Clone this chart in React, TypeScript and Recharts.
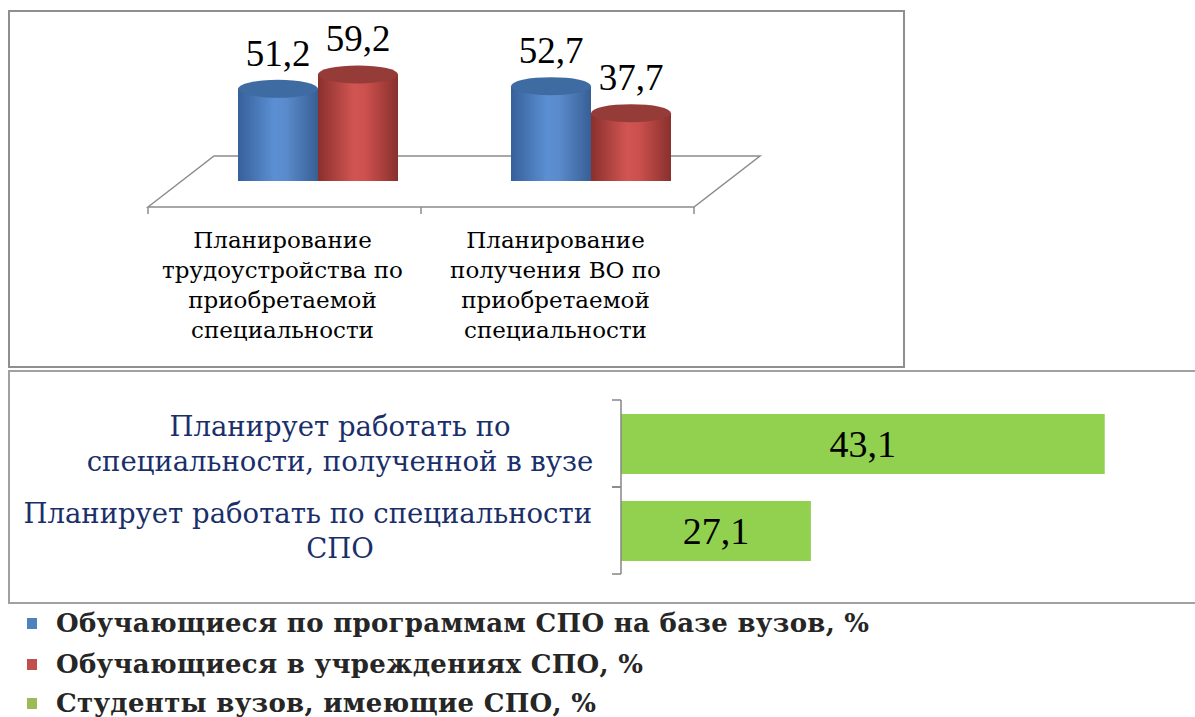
import React from "react";
import { BarChart, Bar, XAxis, YAxis, LabelList } from "recharts";

// top chart: two groups of 3D cylinders
const topCategories = [
  "Планирование\nтрудоустройства по\nприобретаемой\nспециальности",
  "Планирование\nполучения ВО по\nприобретаемой\nспециальности",
];
const vuzSpoValues = [51.2, 52.7];
const collegeSpoValues = [59.2, 37.7];

// bottom chart: horizontal bars
const bottomCategories = [
  "Планирует работать по\nспециальности, полученной в вузе",
  "Планирует работать по специальности\nСПО",
];
const studentValues = [43.1, 27.1];

const legendNames = [
  "Обучающиеся по программам СПО на базе вузов, %",
  "Обучающиеся в учреждениях СПО, %",
  "Студенты вузов, имеющие СПО, %",
];
const legendColors = ["#4f81bd", "#c0504d", "#9bbb59"];

const topData = topCategories.map((name, i) => ({
  name,
  vuz: vuzSpoValues[i],
  college: collegeSpoValues[i],
}));

const bottomData = bottomCategories.map((name, i) => ({
  name,
  value: studentValues[i],
}));

const TOP_W = 905;
const TOP_H = 368;
const PLOT_L = 181;
const PLOT_R = 727;
const BASE_Y = 181;
const DEPTH = 33;
const FLOOR_BACK_Y = 156;
const FLOOR_FRONT_Y = 207;

const SERIF = "'DejaVu Serif', serif";
const NUM_FONT = "'Liberation Serif', serif";
const NAVY = "#1a2f6a";

const fmt = (v: any) => String(v).replace(".", ",");

function Cylinder(props: any) {
  const { x, y, width, height, gradId, capColor } = props;
  const rx = width / 2;
  const ry = 9;
  const bottom = y + height;
  const d = `M${x},${y} L${x},${bottom} A${rx},${ry} 0 0 0 ${x + width},${bottom} L${x + width},${y} Z`;
  return (
    <g>
      <path d={d} fill={`url(#${gradId})`} />
      <ellipse cx={x + rx} cy={y} rx={rx} ry={ry} fill={capColor} />
    </g>
  );
}

function TopTick(props: any) {
  const { x, payload } = props;
  const lines = String(payload.value).split("\n");
  return (
    <g>
      {lines.map((line, i) => (
        <text
          key={i}
          x={x - DEPTH - 2}
          y={FLOOR_FRONT_Y + 41 + i * 30}
          textAnchor="middle"
          fontFamily={SERIF}
          fontSize={23}
          fill="#000"
        >
          {line}
        </text>
      ))}
    </g>
  );
}

function BottomTick(props: any) {
  const { y, payload } = props;
  const lines = String(payload.value).split("\n");
  const half = 43.5;
  return (
    <g>
      <line x1={612} x2={621} y1={y - half} y2={y - half} stroke="#868686" strokeWidth={1.5} />
      <line x1={612} x2={621} y1={y + half} y2={y + half} stroke="#868686" strokeWidth={1.5} />
      {lines.map((line, i) => {
        const long = line.length > 32;
        return (
          <text
            key={i}
            x={long ? 592 : 340}
            y={y - 8 + i * 35}
            textAnchor={long ? "end" : "middle"}
            fontFamily={SERIF}
            fontSize={27.5}
            fill={NAVY}
          >
            {line}
          </text>
        );
      })}
    </g>
  );
}

function TopChart() {
  const fl = PLOT_L - DEPTH;
  const fr = PLOT_R - DEPTH;
  const bl = PLOT_L + DEPTH;
  const br = PLOT_R + DEPTH;
  return (
    <BarChart
      width={TOP_W}
      height={TOP_H}
      data={topData}
      margin={{ top: BASE_Y - 70 * 1.8, right: TOP_W - PLOT_R, left: PLOT_L, bottom: TOP_H - BASE_Y - 1 }}
      barSize={80}
      barGap={0}
    >
      <defs>
        <linearGradient id="blueBody" x1="0" y1="0" x2="1" y2="0">
          <stop offset="0%" stopColor="#36609a" />
          <stop offset="45%" stopColor="#5b8fd3" />
          <stop offset="60%" stopColor="#5a8bcc" />
          <stop offset="100%" stopColor="#375f95" />
        </linearGradient>
        <linearGradient id="redBody" x1="0" y1="0" x2="1" y2="0">
          <stop offset="0%" stopColor="#8a302d" />
          <stop offset="45%" stopColor="#d15552" />
          <stop offset="60%" stopColor="#cc504d" />
          <stop offset="100%" stopColor="#88302d" />
        </linearGradient>
      </defs>
      <polygon
        points={`${fl},${FLOOR_FRONT_Y} ${bl},${FLOOR_BACK_Y} ${br},${FLOOR_BACK_Y} ${fr},${FLOOR_FRONT_Y}`}
        fill="#fff"
        stroke="#8c8c8c"
        strokeWidth={1.5}
      />
      {[fl, (fl + fr) / 2, fr].map((tx, i) => (
        <line key={i} x1={tx} x2={tx} y1={FLOOR_FRONT_Y} y2={FLOOR_FRONT_Y + 7} stroke="#8c8c8c" strokeWidth={1.5} />
      ))}
      <XAxis dataKey="name" height={1} axisLine={false} tickLine={false} tick={<TopTick />} interval={0} />
      <YAxis hide domain={[0, 70]} allowDataOverflow />
      <Bar
        dataKey="vuz"
        isAnimationActive={false}
        shape={(p: any) => <Cylinder {...p} gradId="blueBody" capColor="#3f6ba3" />}
      >
        <LabelList dataKey="vuz" position="top" offset={23} formatter={fmt} fontSize={37} fontFamily={NUM_FONT} fill="#000" />
      </Bar>
      <Bar
        dataKey="college"
        isAnimationActive={false}
        shape={(p: any) => <Cylinder {...p} gradId="redBody" capColor="#953b38" />}
      >
        <LabelList dataKey="college" position="top" offset={23} formatter={fmt} fontSize={37} fontFamily={NUM_FONT} fill="#000" />
      </Bar>
    </BarChart>
  );
}

function BottomChart() {
  return (
    <BarChart
      width={1195}
      height={234}
      data={bottomData}
      layout="vertical"
      margin={{ top: 30, right: 37, left: 620, bottom: 30 }}
      barSize={60}
    >
      <XAxis type="number" hide domain={[16.76, 46]} allowDataOverflow />
      <YAxis
        type="category"
        dataKey="name"
        width={1}
        axisLine={{ stroke: "#868686", strokeWidth: 1.5 }}
        tickLine={false}
        tick={<BottomTick />}
        interval={0}
      />
      <Bar dataKey="value" fill="#92d050" isAnimationActive={false}>
        <LabelList dataKey="value" position="center" formatter={fmt} fontSize={38} fontFamily={NUM_FONT} fill="#000" />
      </Bar>
    </BarChart>
  );
}

export default function App() {
  return (
    <div style={{ position: "absolute", left: 0, top: 0, width: 1195, height: 717, overflow: "hidden", background: "#fff" }}>
      <div style={{ position: "absolute", left: 8, top: 10, width: 897, height: 358, border: "2px solid #8f8f8f", boxSizing: "border-box" }} />
      <div style={{ position: "absolute", left: 8, top: 370, width: 1200, height: 234, border: "2px solid #a0a0a0", boxSizing: "border-box" }} />
      <div style={{ position: "absolute", left: 0, top: 0 }}>
        <TopChart />
      </div>
      <div style={{ position: "absolute", left: 0, top: 370 }}>
        <BottomChart />
      </div>
      {legendNames.map((name, i) => (
        <div
          key={name}
          style={{ position: "absolute", left: 27, top: [608, 649, 688][i], height: 30, display: "flex", alignItems: "center" }}
        >
          <span style={{ display: "inline-block", width: 10, height: 11, background: legendColors[i], marginRight: 19 }} />
          <span style={{ fontFamily: SERIF, fontWeight: 700, fontSize: 26, letterSpacing: 0.3, color: "#262626", whiteSpace: "nowrap" }}>{name}</span>
        </div>
      ))}
    </div>
  );
}
